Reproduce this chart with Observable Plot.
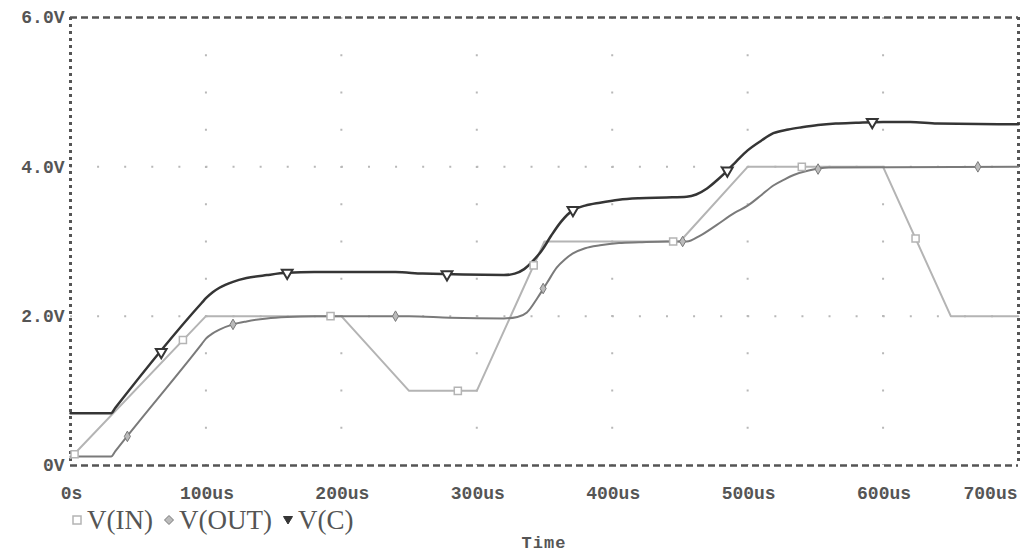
<!DOCTYPE html>
<html><head><meta charset="utf-8">
<script src="https://cdn.jsdelivr.net/npm/d3@7"></script>
<script src="https://cdn.jsdelivr.net/npm/@observablehq/plot@0.6"></script>
<style>
body{margin:0;background:#fff;width:1028px;height:556px;overflow:hidden;}
#chart{height:505px;}
#legend{display:flex;align-items:center;margin-left:71px;height:30px;font-family:"Liberation Serif",serif;font-size:27px;color:#555;}
#legend .item{display:flex;align-items:center;margin-right:10px;}
#legend svg{margin-right:4px;}
#xlabel{position:absolute;left:70px;width:948px;text-align:center;top:534px;line-height:20px;font-family:"Liberation Mono",monospace;font-weight:bold;font-size:17px;letter-spacing:1px;color:#555;}
</style></head><body>
<div id="chart"></div>
<div id="legend"></div>
<div id="xlabel">Time</div>
<script>
// Time axis (us) and voltage axis ticks
const xTicks = [0, 100, 200, 300, 400, 500, 600];
const xLastTick = [700];
const yTicks = [0, 2, 4, 6];

// V(IN)
const inT = [0, 100, 200, 250, 300, 350, 450, 500, 600, 650, 700];
const inV = [0.1, 2.0, 2.0, 1.0, 1.0, 3.0, 3.0, 4.0, 4.0, 2.0, 2.0];
const inMarkT = [3, 83, 192, 286, 342, 445, 540, 624];
const inMarkV = [0.15, 1.68, 2.0, 1.0, 2.68, 3.0, 4.0, 3.04];

// V(OUT)
const outT = [0, 30, 33, 97, 100, 105, 110, 120, 130, 145, 160, 180, 250, 280, 320, 330, 337, 345, 352, 359, 365, 371, 380, 391, 405, 420, 440, 455, 465, 477, 490, 500, 510, 519, 527, 534, 545, 560, 700];
const outV = [0.12, 0.12, 0.19, 1.63, 1.7, 1.77, 1.82, 1.89, 1.93, 1.97, 1.99, 2.0, 2.0, 1.98, 1.97, 1.99, 2.05, 2.25, 2.45, 2.65, 2.76, 2.84, 2.91, 2.95, 2.98, 2.99, 3.0, 3.0, 3.08, 3.22, 3.38, 3.48, 3.62, 3.75, 3.83, 3.89, 3.95, 3.99, 4.0];
const outMarkT = [42, 120, 240, 349, 452, 552, 670];
const outMarkV = [0.39, 1.89, 2.0, 2.37, 3.0, 3.97, 4.0];

// V(C)
const cT = [0, 30, 33, 97, 100, 105, 110, 120, 130, 145, 160, 180, 240, 260, 320, 328, 335, 342, 348, 355, 362, 371, 380, 391, 405, 420, 440, 455, 462, 470, 478, 485, 492, 500, 510, 519, 530, 540, 552, 565, 580, 600, 620, 640, 700];
const cV = [0.7, 0.7, 0.77, 2.18, 2.24, 2.32, 2.38, 2.46, 2.51, 2.55, 2.58, 2.59, 2.59, 2.57, 2.55, 2.57, 2.63, 2.75, 2.88, 3.08, 3.26, 3.42, 3.48, 3.52, 3.56, 3.58, 3.59, 3.6, 3.63, 3.71, 3.83, 3.95, 4.08, 4.22, 4.35, 4.45, 4.5, 4.53, 4.56, 4.58, 4.59, 4.6, 4.6, 4.58, 4.57];
const cMarkT = [67, 160, 278, 371, 485, 592];
const cMarkV = [1.52, 2.58, 2.56, 3.42, 3.95, 4.6];

const seriesNames = ["V(IN)", "V(OUT)", "V(C)"];
const colIn = "#b4b4b4", colOut = "#7a7a7a", colC = "#353535";

const zip = (ts, vs) => ts.map((t, i) => ({t, v: vs[i]}));
const inData = zip(inT, inV), outData = zip(outT, outV), cData = zip(cT, cV);
const inMarks = zip(inMarkT, inMarkV), outMarks = zip(outMarkT, outMarkV), cMarks = zip(cMarkT, cMarkV);

const fmtX = t => t === 0 ? "0s" : t + "us";
const fmtY = v => v === 0 ? "0V" : v.toFixed(1) + "V";
const tickFont = {fontFamily: "Liberation Mono, monospace", fontWeight: "bold", fontSize: 18, fill: "#555", label: null};

const chart = Plot.plot({
  width: 1028, height: 505,
  marginLeft: 70, marginRight: 10, marginTop: 17, marginBottom: 40,
  style: {background: "#fff", overflow: "visible"},
  x: {domain: [0, 700], axis: null},
  y: {domain: [0, 6], axis: null},
  marks: [
    Plot.ruleY([2, 4], {stroke: "#b8b8b8", strokeWidth: 2, strokeDasharray: "2,25.09"}),
    Plot.ruleX([100, 200, 300, 400, 500, 600], {stroke: "#b8b8b8", strokeWidth: 2, strokeDasharray: "2,35.25"}),
    Plot.ruleY([0, 6], {stroke: "#555", strokeWidth: 2.5, strokeDasharray: "7,4"}),
    Plot.ruleX([0, 700], {stroke: "#555", strokeWidth: 3, strokeDasharray: "3,4"}),
    Plot.line(inData, {x: "t", y: "v", stroke: colIn, strokeWidth: 2}),
    Plot.line(outData, {x: "t", y: "v", stroke: colOut, strokeWidth: 2, curve: "monotone-x"}),
    Plot.line(cData, {x: "t", y: "v", stroke: colC, strokeWidth: 2.5, curve: "monotone-x"}),
    Plot.dot(inMarks, {x: "t", y: "v", symbol: "square", r: 4, fill: "#fff", stroke: colIn, strokeWidth: 1.5}),
    Plot.dot(outMarks, {x: "t", y: "v", symbol: "diamond", r: 3.2, fill: "#bbb", stroke: colOut, strokeWidth: 1}),
    Plot.dot(cMarks, {x: "t", y: "v", symbol: "triangle", rotate: 180, r: 4, fill: "#fff", stroke: colC, strokeWidth: 2}),
    Plot.axisY({ticks: yTicks, tickFormat: fmtY, tickSize: 0, tickPadding: 6, ...tickFont, letterSpacing: "2px"}),
    Plot.axisX({ticks: xTicks, tickFormat: fmtX, tickSize: 0, tickPadding: 21, dx: 1, ...tickFont, letterSpacing: "1px"}),
    Plot.axisX({ticks: xLastTick, tickFormat: fmtX, tickSize: 0, tickPadding: 21, dx: -28, ...tickFont, letterSpacing: "1px"})
  ]
});
document.getElementById("chart").appendChild(chart);

// Legend
const legend = document.getElementById("legend");
const symbols = [
  `<svg width="12" height="12"><rect x="2" y="2" width="8" height="8" fill="#fff" stroke="${colIn}" stroke-width="1.5"/></svg>`,
  `<svg width="12" height="12"><path d="M6 1.5L10.5 6L6 10.5L1.5 6Z" fill="#bbb" stroke="${colOut}" stroke-width="1"/></svg>`,
  `<svg width="12" height="12"><path d="M1.5 2.5H10.5L6 10Z" fill="${colC}" stroke="${colC}" stroke-width="1"/></svg>`
];
seriesNames.forEach((name, i) => {
  const d = document.createElement("div");
  d.className = "item";
  d.innerHTML = symbols[i] + `<span>${name}</span>`;
  legend.appendChild(d);
});
</script>
</body></html>
